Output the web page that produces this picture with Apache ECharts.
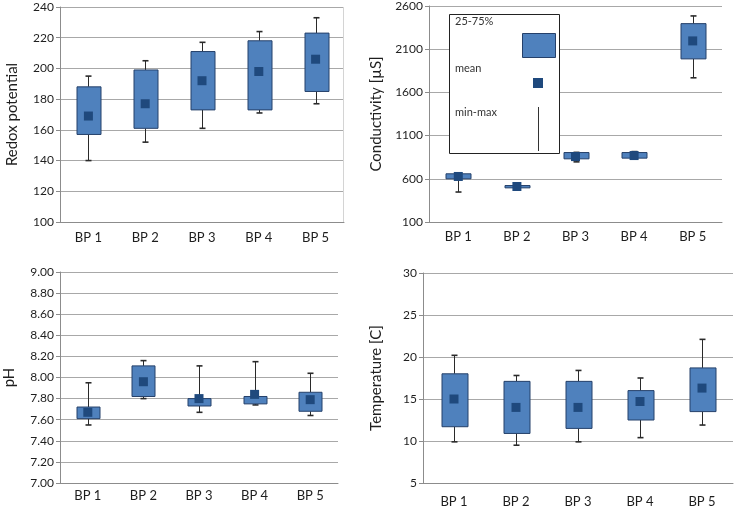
<!DOCTYPE html>
<html>
<head>
<meta charset="utf-8">
<script src="https://cdn.jsdelivr.net/npm/echarts@6/dist/echarts.min.js"></script>
<style>
  html, body { margin: 0; padding: 0; background: #fff; }
  #chart { width: 734px; height: 509px; }
</style>
</head>
<body>
<div id="chart"></div>
<script>
var categories = ['BP 1', 'BP 2', 'BP 3', 'BP 4', 'BP 5']

// each row: [min, q1 (25%), q3 (75%), max]
var redoxBox = [[140, 157, 188, 195], [152, 161, 199, 205], [161, 173, 211, 217], [171, 173, 218, 224], [177, 185, 223, 233]]
var redoxMean = [169, 177, 192, 198, 206]
var redoxTicks = [100, 120, 140, 160, 180, 200, 220, 240]

var condBox = [[447, 600, 658, 662], [488, 495, 522, 527], [796, 831, 904, 906], [835, 839, 904, 915], [1769, 1988, 2396, 2485]]
var condMean = [627, 511, 857, 869, 2196]
var condTicks = [100, 600, 1100, 1600, 2100, 2600]

var phBox = [[7.55, 7.61, 7.72, 7.95], [7.80, 7.82, 8.11, 8.16], [7.67, 7.73, 7.80, 8.11], [7.74, 7.75, 7.82, 8.15], [7.64, 7.68, 7.86, 8.04]]
var phMean = [7.67, 7.96, 7.80, 7.84, 7.79]
var phTicks = [7.00, 7.20, 7.40, 7.60, 7.80, 8.00, 8.20, 8.40, 8.60, 8.80, 9.00]

var tempBox = [[9.9, 11.7, 18.0, 20.2], [9.5, 10.9, 17.1, 17.8], [9.9, 11.5, 17.1, 18.4], [10.4, 12.5, 16.0, 17.5], [11.9, 13.5, 18.7, 22.1]]
var tempMean = [15.0, 14.0, 14.0, 14.7, 16.3]
var tempTicks = [5, 10, 15, 20, 25, 30]

var FONT = 'Lato'
var BOX_FILL = '#4f81bd'
var BOX_EDGE = '#25406a'
var MEAN_COLOR = '#1f497d'

// box + whiskers drawn through the axis scales
function renderBox (params, api) {
  var x = api.value(0)
  var pMin = api.coord([x, api.value(1)])
  var pQ1 = api.coord([x, api.value(2)])
  var pQ3 = api.coord([x, api.value(3)])
  var pMax = api.coord([x, api.value(4)])
  var w = Math.round(api.size([1, 0])[0] * 0.42)
  var cx = Math.round(pMin[0]) + 0.5
  var wire = { stroke: '#2a2a2a', lineWidth: 1 }
  var capStyle = { stroke: '#2a2a2a', lineWidth: 1.6 }
  return {
    type: 'group',
    children: [
      { type: 'line', shape: { x1: cx, y1: pMax[1], x2: cx, y2: pQ3[1] }, style: wire },
      { type: 'line', shape: { x1: cx, y1: pQ1[1], x2: cx, y2: pMin[1] }, style: wire },
      { type: 'line', shape: { x1: cx - 3, y1: pMax[1], x2: cx + 3, y2: pMax[1] }, style: capStyle },
      { type: 'line', shape: { x1: cx - 3, y1: pMin[1], x2: cx + 3, y2: pMin[1] }, style: capStyle },
      {
        type: 'rect',
        shape: { x: Math.round(cx - w / 2), y: pQ3[1], width: w, height: Math.max(pQ1[1] - pQ3[1], 2) },
        style: { fill: BOX_FILL, stroke: BOX_EDGE, lineWidth: 1 }
      }
    ]
  }
}

var panels = [
  { box: redoxBox, mean: redoxMean, ticks: redoxTicks, name: 'Redox potential', grid: { left: 60, top: 7, width: 284, height: 215 }, nameGap: 40, labelMargin: 9, digits: 0 },
  { box: condBox, mean: condMean, ticks: condTicks, name: 'Conductivity [µS]', grid: { left: 429, top: 6, width: 293, height: 216 }, nameGap: 45, labelMargin: 8, digits: 0 },
  { box: phBox, mean: phMean, ticks: phTicks, name: 'pH', grid: { left: 60, top: 272, width: 278, height: 211 }, nameGap: 43, labelMargin: 6, digits: 2 },
  { box: tempBox, mean: tempMean, ticks: tempTicks, name: 'Temperature [C]', grid: { left: 423, top: 273, width: 310, height: 210 }, nameGap: 39, labelMargin: 12, digits: 0 }
]

var grids = []
var xAxes = []
var yAxes = []
var series = []

panels.forEach(function (p, i) {
  grids.push(p.grid)
  xAxes.push({
    type: 'category',
    gridIndex: i,
    data: categories,
    axisLine: { lineStyle: { color: '#8c8c8c' } },
    axisTick: { length: 4, lineStyle: { color: '#8c8c8c' } },
    axisLabel: { color: '#1e1e1e', fontFamily: FONT, fontSize: 13, margin: p.labelMargin }
  })
  yAxes.push({
    type: 'value',
    gridIndex: i,
    min: p.ticks[0],
    max: p.ticks[p.ticks.length - 1],
    interval: p.ticks[1] - p.ticks[0],
    name: p.name,
    nameLocation: 'middle',
    nameGap: p.nameGap,
    nameTextStyle: { color: '#1e1e1e', fontFamily: FONT, fontSize: 15 },
    axisLine: { show: true, lineStyle: { color: '#8c8c8c' } },
    axisTick: { show: true, length: 4, lineStyle: { color: '#8c8c8c' } },
    axisLabel: {
      color: '#1e1e1e',
      fontFamily: FONT,
      fontSize: 12,
      margin: 6,
      formatter: function (v) { return v.toFixed(p.digits) }
    },
    splitLine: { lineStyle: { color: '#a8a8a8' } }
  })
  series.push({
    type: 'custom',
    xAxisIndex: i,
    yAxisIndex: i,
    renderItem: renderBox,
    encode: { x: 0, y: [1, 2, 3, 4] },
    data: p.box.map(function (r, k) { return [k, r[0], r[1], r[2], r[3]] }),
    z: 2
  })
  series.push({
    type: 'scatter',
    xAxisIndex: i,
    yAxisIndex: i,
    symbol: 'rect',
    symbolSize: 9,
    itemStyle: { color: MEAN_COLOR, opacity: 1 },
    data: p.mean,
    z: 3
  })
})

var legendText = { fill: '#333', fontFamily: FONT, fontSize: 11 }

var option = {
  animation: false,
  backgroundColor: '#fff',
  grid: grids,
  xAxis: xAxes,
  yAxis: yAxes,
  series: series,
  graphic: [
    // faint right border of the redox panel
    { type: 'line', z: 1, shape: { x1: 343.5, y1: 7, x2: 343.5, y2: 222 }, style: { stroke: '#d4d4d4', lineWidth: 1 } },
    // key box in the conductivity panel
    { type: 'rect', z: 10, shape: { x: 449.5, y: 14.5, width: 110, height: 139 }, style: { fill: '#fff', stroke: '#222', lineWidth: 1 } },
    { type: 'text', z: 11, left: 455, top: 16, style: Object.assign({ text: '25-75%' }, legendText) },
    { type: 'rect', z: 11, shape: { x: 522.5, y: 33.5, width: 33, height: 24 }, style: { fill: BOX_FILL, stroke: BOX_EDGE, lineWidth: 1 } },
    { type: 'text', z: 11, left: 455, top: 63, style: Object.assign({ text: 'mean' }, legendText) },
    { type: 'rect', z: 11, shape: { x: 533, y: 78, width: 10, height: 10 }, style: { fill: MEAN_COLOR } },
    { type: 'text', z: 11, left: 455, top: 107, style: Object.assign({ text: 'min-max' }, legendText) },
    { type: 'line', z: 11, shape: { x1: 538.5, y1: 107, x2: 538.5, y2: 151 }, style: { stroke: '#333', lineWidth: 1 } }
  ]
}

var myChart = echarts.init(document.getElementById('chart'))
myChart.setOption(option)
</script>
</body>
</html>
